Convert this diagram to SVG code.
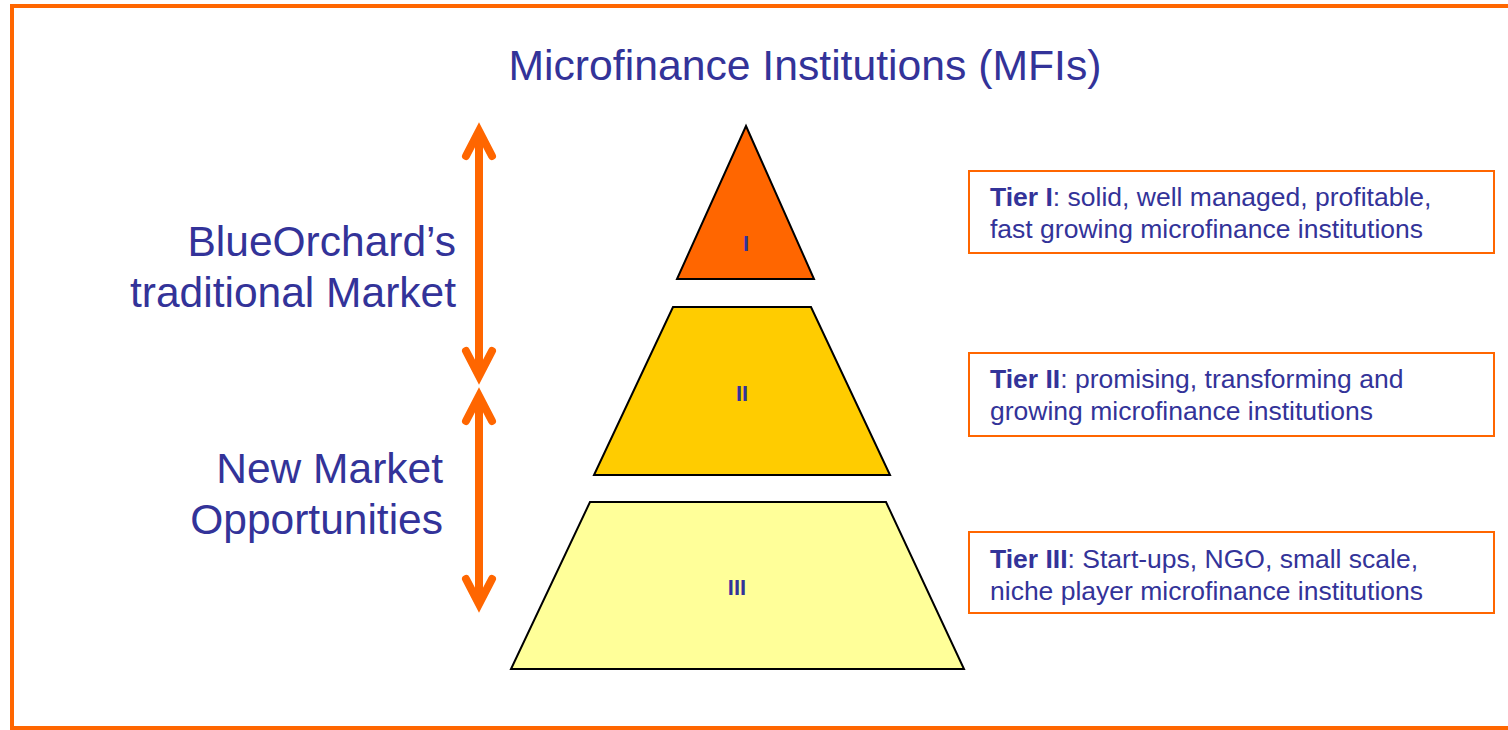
<svg xmlns="http://www.w3.org/2000/svg" width="1508" height="730" viewBox="0 0 1508 730">
  <style>
    .t { font-family: "Liberation Sans", Arial, sans-serif; fill: #333399; }
    .title { font-size: 42.7px; }
    .side { font-size: 42.5px; text-anchor: end; }
    .tier { stroke: #000000; stroke-width: 2; stroke-linejoin: miter; }
    .lbl { font-size: 22px; font-weight: bold; text-anchor: middle; }
    .desc { font-size: 26.5px; }
    .desc tspan.b { font-weight: bold; }
    .box { fill: #ffffff; stroke: #ff6600; stroke-width: 2; }
    .shaft { stroke: #ff6600; stroke-width: 8; fill: none; }
    .head { stroke: #ff6600; stroke-width: 8; fill: none; stroke-linecap: round; stroke-linejoin: miter; stroke-miterlimit: 10; }
  </style>

  <rect x="0" y="0" width="1508" height="730" fill="#ffffff"/>
  <!-- slide frame -->
  <rect x="12" y="6" width="1510" height="722" fill="none" stroke="#ff6600" stroke-width="4"/>

  <text class="t title" x="805" y="80" text-anchor="middle">Microfinance Institutions (MFIs)</text>

  <g id="label-traditional">
    <text class="t side" x="456" y="256">BlueOrchard’s</text>
    <text class="t side" x="456" y="307">traditional Market</text>
  </g>
  <g id="label-new">
    <text class="t side" x="443" y="483">New Market</text>
    <text class="t side" x="443" y="534">Opportunities</text>
  </g>

  <!-- pyramid tiers -->
  <g id="tier1">
    <polygon class="tier" points="746,126 814,279 677,279" fill="#ff6600"/>
    <text class="t lbl" x="746" y="251">I</text>
  </g>
  <g id="tier2">
    <polygon class="tier" points="673,307 811,307 890,475 594,475" fill="#ffcc00"/>
    <text class="t lbl" x="742" y="401">II</text>
  </g>
  <g id="tier3">
    <polygon class="tier" points="590,502 886,502 964,669 511,669" fill="#ffff99"/>
    <text class="t lbl" x="737" y="595">III</text>
  </g>

  <!-- tier descriptions -->
  <g id="desc1">
    <rect class="box" x="969" y="171" width="525" height="82"/>
    <text class="t desc" x="990" y="206"><tspan class="b">Tier I</tspan>: solid, well managed, profitable,</text>
    <text class="t desc" x="990" y="238">fast growing microfinance institutions</text>
  </g>
  <g id="desc2">
    <rect class="box" x="969" y="353" width="525" height="83"/>
    <text class="t desc" x="990" y="388"><tspan class="b">Tier II</tspan>: promising, transforming and</text>
    <text class="t desc" x="990" y="420">growing microfinance institutions</text>
  </g>
  <g id="desc3">
    <rect class="box" x="969" y="532" width="525" height="81"/>
    <text class="t desc" x="990" y="568"><tspan class="b">Tier III</tspan>: Start-ups, NGO, small scale,</text>
    <text class="t desc" x="990" y="600">niche player microfinance institutions</text>
  </g>

  <!-- double-headed range arrows -->
  <g id="connectors">
    <line class="shaft" x1="479" y1="132" x2="479" y2="375"/>
    <polyline class="head" points="466,156 479,131 492,156"/>
    <polyline class="head" points="466,351 479,376 492,351"/>

    <line class="shaft" x1="479" y1="397" x2="479" y2="603"/>
    <polyline class="head" points="466,421 479,396 492,421"/>
    <polyline class="head" points="466,579 479,604 492,579"/>
  </g>
</svg>
